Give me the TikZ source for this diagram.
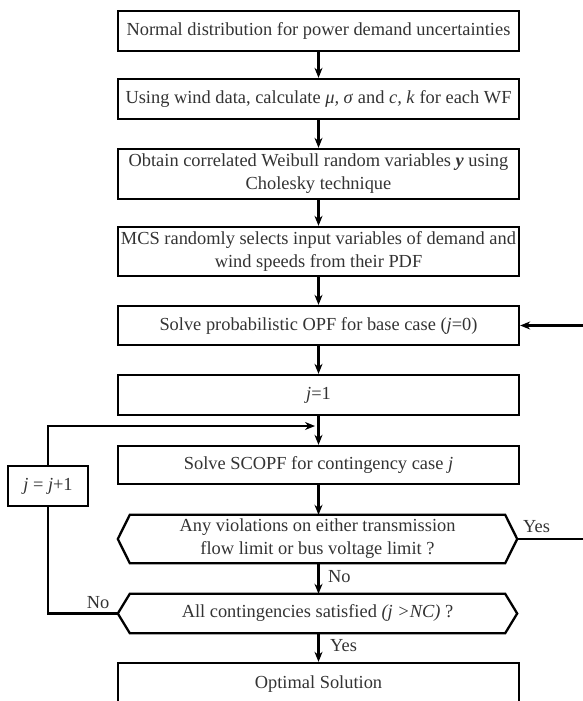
\documentclass[tikz,border=0pt]{standalone}
\usepackage{fontspec}
\setmainfont{Liberation Serif}
\usetikzlibrary{arrows.meta,calc}
\tikzset{
  txt/.style={font=\fontsize{18.4}{23}\selectfont, text=black!80, align=center, inner sep=1pt},
  stepbox/.style={txt, draw=black, line width=2.3pt, minimum width=401pt},
  hexbox/.style={txt, minimum width=399pt},
  conn/.style={line width=2.1pt, draw=black},
  arr/.style={conn, -{Stealth[length=10pt,width=8pt]}},
  lbl/.style={txt}
}
\newcommand{\hexdraw}[1]{%
  \draw[conn, line width=2.3pt, line join=miter] (#1.west) -- ($(#1.north west)+(12,0)$) -- ($(#1.north east)+(-12,0)$) -- (#1.east) -- ($(#1.south east)+(-12,0)$) -- ($(#1.south west)+(12,0)$) -- cycle;}
\begin{document}
\begin{tikzpicture}[x=1pt,y=-1pt]
\useasboundingbox (0,0) rectangle (583,701);
\node[stepbox, minimum height=40pt] (b1) at (318.5,31) {Normal distribution for power demand uncertainties};
\node[stepbox, minimum height=40pt] (b2) at (318.5,99) {Using wind data, calculate \textit{μ, σ} and \textit{c, k} for each WF};
\node[stepbox, minimum height=50pt] (b3) at (318.5,174) {Obtain correlated Weibull random variables \textbf{\textit{y}} using\\Cholesky technique};
\node[stepbox, minimum height=49pt] (b4) at (318.5,251.5) {MCS randomly selects input variables of demand and\\wind speeds from their PDF};
\node[stepbox, minimum height=39pt] (b5) at (318.5,325.5) {Solve probabilistic OPF for base case (\textit{j}=0)};
\node[stepbox, minimum height=40pt] (b6) at (318.5,395) {\textit{j}=1};
\node[stepbox, minimum height=38pt] (b7) at (318.5,465) {Solve SCOPF for contingency case \textit{j}};
\node[hexbox, minimum height=48pt] (h1) at (317.5,539) {Any violations on either transmission\\flow limit or bus voltage limit ?};
\hexdraw{h1}
\node[hexbox, minimum height=39pt] (h2) at (317.5,613.5) {All contingencies satisfied \textit{(j >NC)} ?};
\hexdraw{h2}
\node[stepbox, minimum height=42pt] (b8) at (318.5,684) {Optimal Solution};
\node[stepbox, minimum width=80pt, minimum height=40pt] (jj) at (48,486) {\textit{j} = \textit{j}+1};

\draw[arr] (b1) -- (b2);
\draw[arr] (b2) -- (b3);
\draw[arr] (b3) -- (b4);
\draw[arr] (b4) -- (b5);
\draw[arr] (b5) -- (b6);
\draw[arr] (b6) -- (b7);
\draw[arr] (b7.south) -- (b7.south |- h1.north);
\draw[arr] (h1.south -| b7.south) -- (h2.north -| b7.south);
\draw[arr] (h2.south -| b8.north) -- (b8.north);

\coordinate (rc) at (586,539);
\draw[arr] (h1.east) -- (rc) |- (b5.east);
\coordinate (lp) at (315,426);
\draw[conn] (h2.west) -| (jj.south);
\draw[arr] (jj.north) |- (lp);

\node[lbl, anchor=west] (yes1) at (522,527) {Yes};
\node[lbl, anchor=west] (no1) at (327,577) {No};
\node[lbl, anchor=west] (yes2) at (329,646) {Yes};
\node[lbl] (no2) at (98,603) {No};
\end{tikzpicture}
\end{document}
